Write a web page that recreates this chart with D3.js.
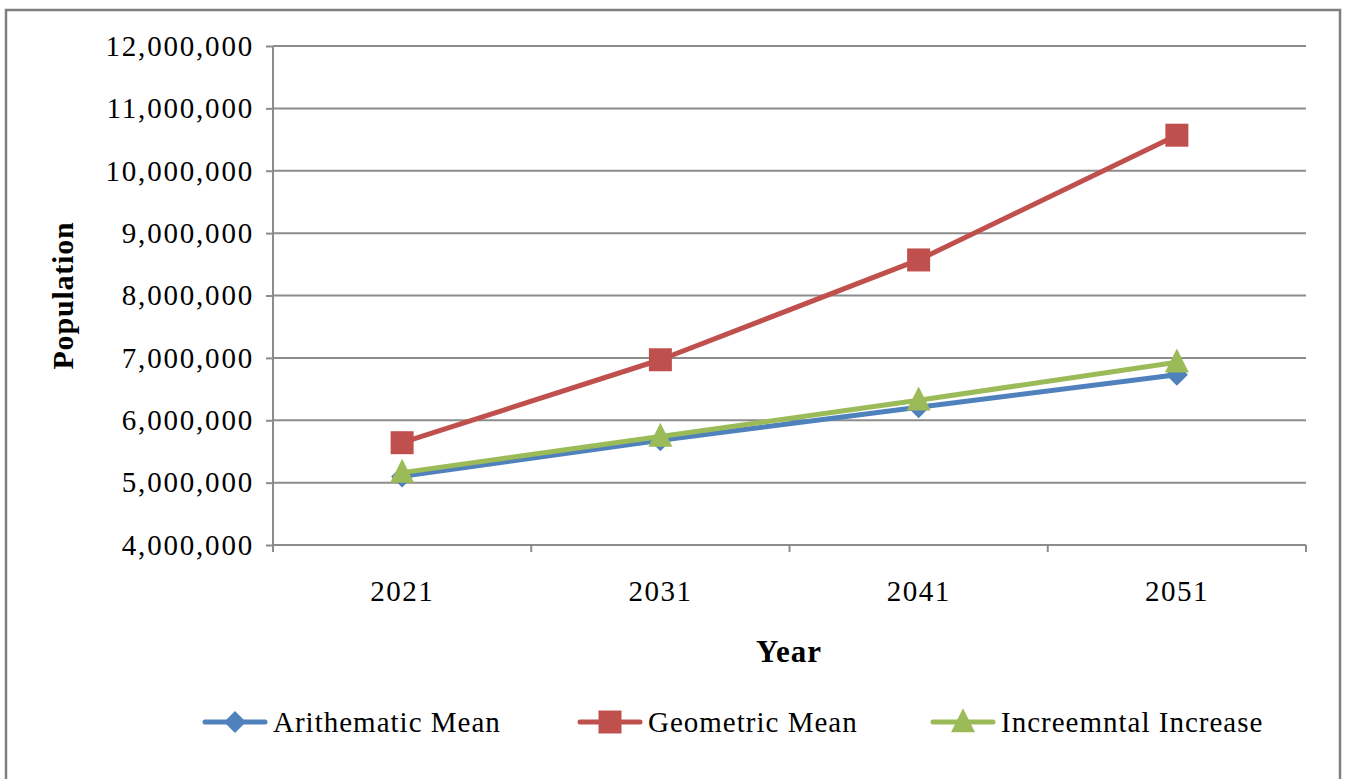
<!DOCTYPE html>
<html><head><meta charset="utf-8">
<script src="https://cdn.jsdelivr.net/npm/d3@7"></script>
<style>body{margin:0;background:#fff}svg{display:block}</style>
</head><body><svg id="c" width="1346" height="779"></svg>
<script>
const years = ["2021","2031","2041","2051"];
const arithmeticMean = [5100000, 5680000, 6210000, 6730000];
const geometricMean = [5640000, 6970000, 8570000, 10570000];
const incrementalIncrease = [5160000, 5740000, 6320000, 6930000];
const yTicks = [4000000,5000000,6000000,7000000,8000000,9000000,10000000,11000000,12000000];
const seriesNames = ["Arithematic Mean","Geometric Mean","Increemntal Increase"];

const svg = d3.select("#c");
const m={l:273,r:1306,t:46,b:545};
const font="'Liberation Serif','Times New Roman',serif";

svg.append("rect").attr("x",6).attr("y",10).attr("width",1334).attr("height",780)
  .attr("fill","#fff").attr("stroke","#7f7f7f").attr("stroke-width",2.5);

const x=d3.scaleBand().domain(years).range([m.l,m.r]);
const y=d3.scaleLinear().domain([4000000,12000000]).range([m.b,m.t]);

// gridlines
svg.append("g").selectAll("line").data(yTicks.slice(1)).join("line")
  .attr("x1",m.l).attr("x2",m.r).attr("y1",d=>y(d)).attr("y2",d=>y(d))
  .attr("stroke","#8c8c8c").attr("stroke-width",2);

// y axis
const ya=svg.append("g").attr("transform",`translate(${m.l},0)`)
  .call(d3.axisLeft(y).tickValues(yTicks).tickSize(7).tickPadding(12).tickFormat(d3.format(",")));
ya.selectAll("path,line").attr("stroke","#8c8c8c").attr("stroke-width",2);
ya.select("path").attr("d",`M0,${m.b}V${m.t}`);
ya.selectAll("text").attr("font-family",font).attr("font-size",29).attr("fill","#000").style("letter-spacing","1.8px");

// x axis
const xa=svg.append("g").attr("transform",`translate(0,${m.b})`)
  .call(d3.axisBottom(x).tickSize(0).tickPadding(35));
xa.select("path").attr("d",`M${m.l},0H${m.r}`).attr("stroke","#8c8c8c").attr("stroke-width",2);
xa.selectAll("text").attr("font-family",font).attr("font-size",29).attr("fill","#000").style("letter-spacing","1.5px");
const bounds=years.map(d=>x(d)).concat([m.r]);
xa.selectAll("line.b").data(bounds).join("line").attr("class","b")
  .attr("x1",d=>d).attr("x2",d=>d).attr("y1",0).attr("y2",7)
  .attr("stroke","#8c8c8c").attr("stroke-width",2);

// titles
svg.append("text").attr("transform",`translate(73,${(m.t+m.b)/2}) rotate(-90)`)
  .attr("text-anchor","middle").attr("font-family",font).attr("font-weight","bold")
  .attr("font-size",30).style("letter-spacing","0.8px").text("Population");
svg.append("text").attr("x",789).attr("y",662).attr("text-anchor","middle")
  .attr("font-family",font).attr("font-weight","bold").attr("font-size",31).style("letter-spacing","1px").text("Year");

const colors=["#4F81BD","#C0504D","#9BBB59"];
const data=[arithmeticMean,geometricMean,incrementalIncrease];
const cx=d=>x(d)+x.bandwidth()/2;
const line=d3.line().x((v,i)=>cx(years[i])).y(v=>y(v));

function diamond(r){return `M0,${-r}L${r},0L0,${r}L${-r},0Z`;}
function square(r){return `M${-r},${-r}H${r}V${r}H${-r}Z`;}
function tri(r){return `M0,${-r*1.15}L${r},${r*0.85}L${-r},${r*0.85}Z`;}
const shapes=[()=>diamond(11),()=>square(11.5),()=>tri(12)];

data.forEach((arr,i)=>{
  svg.append("path").datum(arr).attr("d",line).attr("fill","none")
    .attr("stroke",colors[i]).attr("stroke-width",5).attr("stroke-linejoin","round");
  svg.append("g").selectAll("path").data(arr).join("path")
    .attr("transform",(v,j)=>`translate(${cx(years[j])},${y(v)})`)
    .attr("d",shapes[i]()).attr("fill",colors[i]);
});

// legend
const legX=[205,580,933];
const legY=722;
seriesNames.forEach((n,i)=>{
  const g=svg.append("g").attr("transform",`translate(${legX[i]},${legY})`);
  g.append("line").attr("x1",0).attr("x2",60).attr("stroke",colors[i]).attr("stroke-width",5).attr("stroke-linecap","round");
  g.append("path").attr("transform","translate(30,0)").attr("d",shapes[i]()).attr("fill",colors[i]);
  g.append("text").attr("x",68).attr("y",10).attr("font-family",font).attr("font-size",29)
    .style("letter-spacing","1px").text(n);
});
</script></body></html>
